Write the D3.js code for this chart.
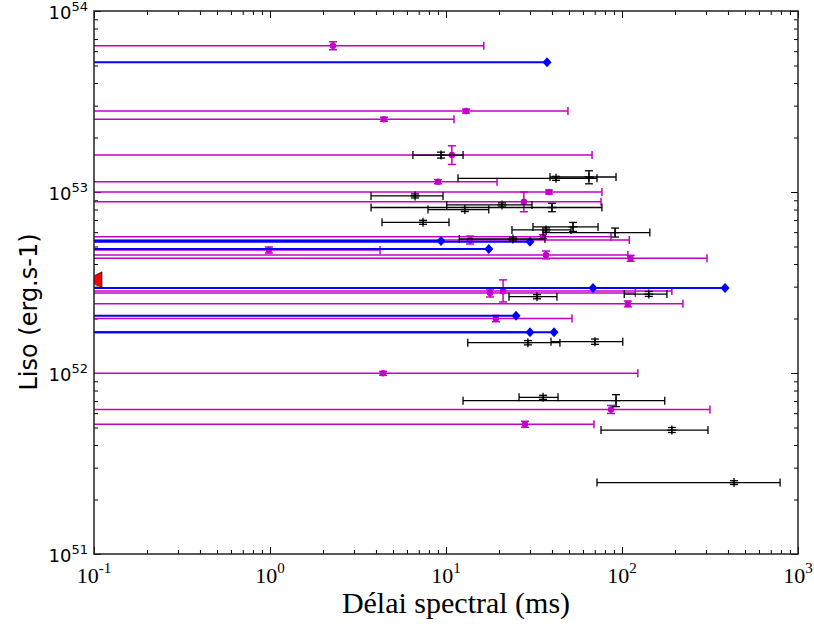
<!DOCTYPE html>
<html><head><meta charset="utf-8">
<script src="https://cdn.jsdelivr.net/npm/d3@7"></script>
<style>body{margin:0;background:#fff}</style>
</head><body><svg id="c" width="814" height="626"></svg>
<script>
// ---- data ----
const xTickExponents = [-1, 0, 1, 2, 3];
const yTickExponents = [51, 52, 53, 54];
const xTitle = "Délai spectral (ms)";
const yTitle = "Liso (erg.s-1)";
const LEFT_OPEN = 0.001; // lower delay bound beyond the axis (open to the left)

// [delay, delayLo, delayHi, Liso, LisoLo, LisoHi]
const magentaRows = [
  [2.28, LEFT_OPEN, 16.4, 6.43e53, 6.11e53, 6.76e53],
  [13.0, LEFT_OPEN, 49.3, 2.80e53, 2.73e53, 2.87e53],
  [4.44, LEFT_OPEN, 11.1, 2.52e53, 2.46e53, 2.59e53],
  [10.8, LEFT_OPEN, 67.6, 1.60e53, 1.42e53, 1.80e53],
  [9.01, LEFT_OPEN, 19.5, 1.14e53, 1.11e53, 1.17e53],
  [38.5, LEFT_OPEN, 76.9, 1.00e53, 0.975e53, 1.026e53],
  [27.7, LEFT_OPEN, 76.0, 8.84e52, 7.78e52, 1.00e53],
  [35.6, LEFT_OPEN, 86.6, 5.66e52, 5.52e52, 5.81e52],
  [13.7, LEFT_OPEN, 110, 5.43e52, 5.16e52, 5.71e52],
  [0.986, LEFT_OPEN, 4.22, 4.78e52, 4.60e52, 4.97e52],
  [37.0, LEFT_OPEN, 108, 4.49e52, 4.27e52, 4.72e52],
  [112, LEFT_OPEN, 304, 4.30e52, 4.14e52, 4.47e52],
  [17.8, LEFT_OPEN, 119, 2.77e52, 2.63e52, 2.91e52],
  [21.1, LEFT_OPEN, 192, 2.84e52, 2.47e52, 3.27e52],
  [108, LEFT_OPEN, 222, 2.41e52, 2.32e52, 2.50e52],
  [19.2, LEFT_OPEN, 52.0, 2.00e52, 1.92e52, 2.08e52],
  [4.39, LEFT_OPEN, 123, 9.96e51, 9.71e51, 1.02e52],
  [86.6, LEFT_OPEN, 316, 6.29e51, 5.98e51, 6.62e51],
  [28.1, LEFT_OPEN, 69.3, 5.21e51, 5.01e51, 5.41e51]
];

// [delay (lower limit marker), Liso]
const blueRows = [
  [37.5, 5.21e53],
  [9.37, 5.36e52],
  [30.0, 5.31e52],
  [17.5, 4.84e52],
  [68.4, 2.95e52],
  [385, 2.95e52],
  [25.0, 2.07e52],
  [30.0, 1.68e52],
  [41.1, 1.68e52]
];

// [delay, delayLo, delayHi, Liso, LisoLo, LisoHi]
const blackRows = [
  [9.37, 6.49, 12.5, 1.60e53, 1.54e53, 1.66e53],
  [42.2, 11.7, 72.1, 1.19e53, 1.16e53, 1.22e53],
  [64.9, 39.0, 92.5, 1.21e53, 1.11e53, 1.31e53],
  [6.67, 3.75, 9.62, 9.51e52, 9.27e52, 9.76e52],
  [40.0, 3.75, 76.9, 8.21e52, 7.78e52, 8.66e52],
  [12.8, 7.90, 17.5, 8.00e52, 7.80e52, 8.21e52],
  [20.8, 10.1, 30.8, 8.48e52, 8.27e52, 8.70e52],
  [7.40, 4.33, 10.4, 6.80e52, 6.63e52, 6.98e52],
  [52.7, 31.2, 73.1, 6.41e52, 6.05e52, 6.79e52],
  [37.0, 23.7, 51.3, 6.17e52, 6.01e52, 6.33e52],
  [91.3, 35.6, 144, 5.97e52, 5.64e52, 6.32e52],
  [24.0, 11.9, 36.5, 5.50e52, 5.36e52, 5.64e52],
  [32.9, 22.8, 42.7, 2.64e52, 2.57e52, 2.71e52],
  [142, 103, 180, 2.73e52, 2.65e52, 2.82e52],
  [29.2, 13.3, 44.4, 1.47e52, 1.43e52, 1.51e52],
  [70.2, 39.5, 101, 1.49e52, 1.44e52, 1.54e52],
  [35.6, 26.0, 43.3, 7.34e51, 7.15e51, 7.53e51],
  [92.5, 12.5, 175, 7.03e51, 6.52e51, 7.59e51],
  [192, 76.0, 308, 4.84e51, 4.69e51, 5.00e51],
  [433, 72.1, 791, 2.48e51, 2.42e51, 2.54e51]
];

// [delay, Liso]
const redPoints = [[0.1, 3.27e52]];

// ---- layout ----
const MAG = "#c400c4", BLUE = "#0000ff", BLK = "#000000", RED = "#ff0000";
const plot = {left: 94, right: 798, top: 11, bottom: 554};
const svg = d3.select("#c");
svg.append("rect").attr("width", 814).attr("height", 626).attr("fill", "#fff");

const x = d3.scaleLog().domain([0.1, 1000]).range([plot.left, plot.right]);
const y = d3.scaleLog().domain([1e51, 1e54]).range([plot.bottom, plot.top]);

const defs = svg.append("defs");
defs.append("clipPath").attr("id", "clip").append("rect")
  .attr("x", plot.left).attr("y", plot.top)
  .attr("width", plot.right - plot.left).attr("height", plot.bottom - plot.top);

function minors(e0, e1) {
  const out = [];
  for (let e = e0; e < e1; e++) for (let k = 2; k <= 9; k++) out.push(k * Math.pow(10, e));
  return out;
}
const xMajor = xTickExponents.map(e => Math.pow(10, e));
const yMajor = yTickExponents.map(e => Math.pow(10, e));
const xMinor = minors(-1, 3);
const yMinor = minors(51, 54);

const axes = svg.append("g");
function addAxis(gen, tx, ty, vals, len) {
  const g = axes.append("g").attr("transform", `translate(${tx},${ty})`)
    .call(gen.tickValues(vals).tickSize(-len).tickSizeOuter(0).tickFormat(() => ""));
  g.select(".domain").remove();
  g.selectAll(".tick line").attr("stroke", "#000").attr("stroke-width", 1);
}
[[xMajor, 7], [xMinor, 4]].forEach(([v, l]) => {
  addAxis(d3.axisBottom(x), 0, plot.bottom, v, l);
  addAxis(d3.axisTop(x), 0, plot.top, v, l);
});
[[yMajor, 7], [yMinor, 4]].forEach(([v, l]) => {
  addAxis(d3.axisLeft(y), plot.left, 0, v, l);
  addAxis(d3.axisRight(y), plot.right, 0, v, l);
});

// ---- data marks ----
const g = svg.append("g").attr("clip-path", "url(#clip)");
const CAP = 4;

function errRows(rows, color, lw, marker) {
  rows.forEach(([xv, xlo, xhi, yv, ylo, yhi]) => {
    const cx = x(xv), cy = y(yv), x0 = x(xlo), x1 = x(xhi), y0 = y(ylo), y1 = y(yhi);
    const L = (a, b, c, d) => g.append("line").attr("x1", a).attr("y1", b).attr("x2", c).attr("y2", d)
      .attr("stroke", color).attr("stroke-width", lw);
    L(x0, cy, x1, cy);
    L(x0, cy - CAP, x0, cy + CAP);
    L(x1, cy - CAP, x1, cy + CAP);
    L(cx, y0, cx, y1);
    L(cx - CAP, y0, cx + CAP, y0);
    L(cx - CAP, y1, cx + CAP, y1);
    marker(cx, cy);
  });
}

errRows(magentaRows, MAG, 1.5, (cx, cy) => {
  g.append("circle").attr("cx", cx).attr("cy", cy).attr("r", 3.2).attr("fill", MAG);
});

blueRows.forEach(([xv, yv]) => {
  const cx = x(xv), cy = y(yv);
  g.append("line").attr("x1", x(LEFT_OPEN)).attr("x2", cx).attr("y1", cy).attr("y2", cy)
    .attr("stroke", BLUE).attr("stroke-width", 2);
  g.append("path").attr("d", `M${cx - 4.5},${cy}L${cx},${cy - 5}L${cx + 4.5},${cy}L${cx},${cy + 5}Z`)
    .attr("fill", BLUE);
});

errRows(blackRows, BLK, 1.3, (cx, cy) => {
  g.append("path").attr("d", `M${cx - 4.5},${cy}H${cx + 4.5}M${cx},${cy - 4.5}V${cy + 4.5}`)
    .attr("stroke", BLK).attr("stroke-width", 1.3);
});

redPoints.forEach(([xv, yv]) => {
  const cx = x(xv), cy = y(yv);
  g.append("path").attr("d", `M${cx - 8},${cy}L${cx + 8},${cy - 8}L${cx + 8},${cy + 8}Z`)
    .attr("fill", RED).attr("stroke", "#000").attr("stroke-width", 0.6);
});

// frame
svg.append("rect").attr("x", plot.left).attr("y", plot.top)
  .attr("width", plot.right - plot.left).attr("height", plot.bottom - plot.top)
  .attr("fill", "none").attr("stroke", "#222").attr("stroke-width", 1.5);

// ---- tick labels ----
const serif = "'Liberation Serif','Times New Roman',serif";
const sans = "'DejaVu Sans',sans-serif";
xTickExponents.forEach(e => {
  const t = svg.append("text").attr("x", x(Math.pow(10, e))).attr("y", 583)
    .attr("text-anchor", "middle").attr("font-family", serif).attr("font-size", 22).attr("fill", "#000");
  t.append("tspan").text("10");
  t.append("tspan").attr("dy", -10).attr("font-size", 15).text(String(e));
});
yTickExponents.forEach(e => {
  const t = svg.append("text").attr("x", 88).attr("y", y(Math.pow(10, e)) + 8)
    .attr("text-anchor", "end").attr("font-family", sans).attr("font-size", 18).attr("fill", "#000");
  t.append("tspan").text("10");
  t.append("tspan").attr("dy", -8).attr("font-size", 13).text(String(e));
});

// ---- axis titles ----
svg.append("text").attr("x", (plot.left + plot.right) / 2 + 10).attr("y", 613)
  .attr("text-anchor", "middle").attr("font-family", serif).attr("font-size", 30).attr("fill", "#000")
  .text(xTitle);
svg.append("text").attr("transform", "translate(37,312) rotate(-90)")
  .attr("text-anchor", "middle").attr("font-family", sans).attr("font-size", 24).attr("fill", "#000")
  .text(yTitle);
</script>
</body></html>
